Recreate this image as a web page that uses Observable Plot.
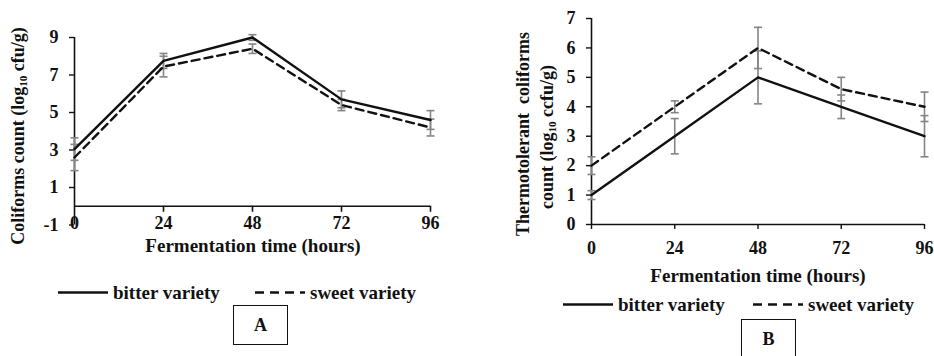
<!DOCTYPE html>
<html>
<head>
<meta charset="utf-8">
<script src="https://cdn.jsdelivr.net/npm/d3@7"></script>
<script src="https://cdn.jsdelivr.net/npm/@observablehq/plot@0.6"></script>
<style>
  html, body { margin: 0; padding: 0; background: #fff; }
  #fig { position: relative; width: 934px; height: 356px; overflow: hidden; background: #fff; color: #111; }
  #fig, #fig div, #fig svg, #fig text { font-family: 'Liberation Serif', serif !important; font-weight: bold; }
  .abs { position: absolute; white-space: nowrap; }
  .ylab { transform: translate(-50%, -50%) rotate(-90deg); font-size: 18px; line-height: 1; }
  .xtitle { transform: translate(-50%, -50%); font-size: 19px; line-height: 1; }
  .leg { font-size: 19px; line-height: 1; transform: translateY(-50%); display: flex; align-items: center; }
  .leg svg { display: block; margin-right: 5px; }
  .box { border: 1.5px solid #111; box-sizing: border-box; display: flex; align-items: center; justify-content: center; font-size: 18px; }
  sub { font-size: 0.62em; vertical-align: -0.3em; line-height: 0; }
</style>
</head>
<body>
<div id="fig"></div>
<script>
// ---- data ----
const hours = [0, 24, 48, 72, 96];
// Panel A: coliforms count (log10 cfu/g)
const coliBitter = [3.05, 7.75, 9.0, 5.7, 4.6];
const coliBitterErr = [0.6, 0.4, 0.15, 0.45, 0.5];
const coliSweet = [2.6, 7.45, 8.4, 5.4, 4.2];
const coliSweetErr = [0.7, 0.55, 0.25, 0.3, 0.45];
const coliTicks = [-1, 1, 3, 5, 7, 9];
// Panel B: thermotolerant coliforms count (log10 ccfu/g)
const thermoBitter = [1, 3, 5, 4, 3];
const thermoBitterErr = [0.15, 0.6, 0.9, 0.4, 0.7];
const thermoSweet = [2, 4, 6, 4.6, 4];
const thermoSweetErr = [0.3, 0.2, 0.7, 0.4, 0.5];
const thermoTicks = [0, 1, 2, 3, 4, 5, 6, 7];

const FONT = "'Liberation Serif', serif";
const ERR = "#858585";
const capSymbol = { draw(ctx) { ctx.moveTo(-4, 0); ctx.lineTo(4, 0); } };

function rows(vals, errs) {
  return hours.map((h, i) => ({ hour: h, value: vals[i], err: errs[i] }));
}

function errorMarks(data) {
  return [
    Plot.ruleX(data, { x: "hour", y1: d => d.value - d.err, y2: d => d.value + d.err, stroke: ERR, strokeWidth: 1.6 }),
    Plot.dot(data, { x: "hour", y: d => d.value - d.err, symbol: capSymbol, fill: "none", stroke: ERR, strokeWidth: 1.6 }),
    Plot.dot(data, { x: "hour", y: d => d.value + d.err, symbol: capSymbol, fill: "none", stroke: ERR, strokeWidth: 1.6 })
  ];
}

const fig = document.getElementById("fig");

// ---- Panel A ----
const aBitter = rows(coliBitter, coliBitterErr);
const aSweet = rows(coliSweet, coliSweetErr);
const plotA = Plot.plot({
  width: 460, height: 260,
  marginLeft: 74, marginRight: 30, marginTop: 37, marginBottom: 35.5,
  style: { fontFamily: FONT, fontSize: "18px", fontWeight: "bold", color: "#111", background: "transparent" },
  x: { domain: [0, 96] },
  y: { domain: [-1, 9] },
  marks: [
    Plot.ruleX([0], { stroke: "#111", strokeWidth: 1.6 }),
    Plot.ruleY([0], { stroke: "#111", strokeWidth: 1.6 }),
    Plot.ruleX(hours.slice(1), { x: d => d, y1: 0, y2: -0.32, stroke: "#111", strokeWidth: 1.6 }),
    Plot.axisY({ ticks: coliTicks, tickSize: 5, tickPadding: 11, label: null, tickFormat: d => String(d), stroke: "#111", strokeWidth: 1.4, fontFamily: FONT }),
    Plot.axisX({ ticks: hours, tickSize: 0, tickPadding: 0, dy: -9, label: null, tickFormat: d => String(d), fontFamily: FONT }),
    ...errorMarks(aBitter),
    ...errorMarks(aSweet),
    Plot.line(aSweet, { x: "hour", y: "value", stroke: "#111", strokeWidth: 2.4, strokeDasharray: "8,5" }),
    Plot.line(aBitter, { x: "hour", y: "value", stroke: "#111", strokeWidth: 2.4 })
  ]
});
plotA.style.position = "absolute"; plotA.style.left = "0px"; plotA.style.top = "0px";
fig.appendChild(plotA);

// ---- Panel B ----
const bBitter = rows(thermoBitter, thermoBitterErr);
const bSweet = rows(thermoSweet, thermoSweetErr);
const plotB = Plot.plot({
  width: 454, height: 290,
  marginLeft: 111, marginRight: 10, marginTop: 18, marginBottom: 66,
  style: { fontFamily: FONT, fontSize: "18px", fontWeight: "bold", color: "#111", background: "transparent" },
  x: { domain: [0, 96] },
  y: { domain: [0, 7] },
  marks: [
    Plot.ruleX([0], { stroke: "#111", strokeWidth: 1.6 }),
    Plot.ruleY([0], { stroke: "#111", strokeWidth: 1.6 }),
    Plot.axisY({ ticks: thermoTicks, tickSize: 5, tickPadding: 11, label: null, tickFormat: d => String(d), stroke: "#111", strokeWidth: 1.4, fontFamily: FONT }),
    Plot.axisX({ ticks: hours, tickSize: 5, tickPadding: 12, label: null, tickFormat: d => String(d), stroke: "#111", strokeWidth: 1.4, fontFamily: FONT }),
    ...errorMarks(bBitter),
    ...errorMarks(bSweet),
    Plot.line(bSweet, { x: "hour", y: "value", stroke: "#111", strokeWidth: 2.4, strokeDasharray: "8,5" }),
    Plot.line(bBitter, { x: "hour", y: "value", stroke: "#111", strokeWidth: 2.4 })
  ]
});
plotB.style.position = "absolute"; plotB.style.left = "480px"; plotB.style.top = "0px";
fig.appendChild(plotB);

// ---- titles, legends, panel labels ----
function add(html, cls, left, top, extra) {
  const d = document.createElement("div");
  d.className = "abs " + cls;
  d.style.left = left + "px"; d.style.top = top + "px";
  if (extra) Object.assign(d.style, extra);
  d.innerHTML = html;
  fig.appendChild(d);
  return d;
}
const solid = '<svg width="50" height="6"><line x1="0" y1="3" x2="50" y2="3" stroke="#111" stroke-width="2.6"/></svg>';
const dashed = '<svg width="50" height="6"><line x1="0" y1="3" x2="50" y2="3" stroke="#111" stroke-width="2.6" stroke-dasharray="9,6"/></svg>';

add('Coliforms count (log<sub>10</sub> cfu/g)', "ylab", 18, 136);
add('Fermentation time (hours)', "xtitle", 253, 245);
add(solid + 'bitter variety', "leg", 58, 292);
add(dashed + 'sweet variety', "leg", 255, 292);
add('A', "box", 233, 305, { width: "55px", height: "40px" });

add('Thermotolerant&nbsp; coliforms', "ylab", 523, 134);
add('count (log<sub>10</sub> ccfu/g)', "ylab", 547, 137);
add('Fermentation time (hours)', "xtitle", 758, 275);
add(solid + 'bitter variety', "leg", 563, 304);
add(dashed + 'sweet variety', "leg", 753, 304);
add('B', "box", 741, 319, { width: "55px", height: "40px" });
</script>
</body>
</html>
